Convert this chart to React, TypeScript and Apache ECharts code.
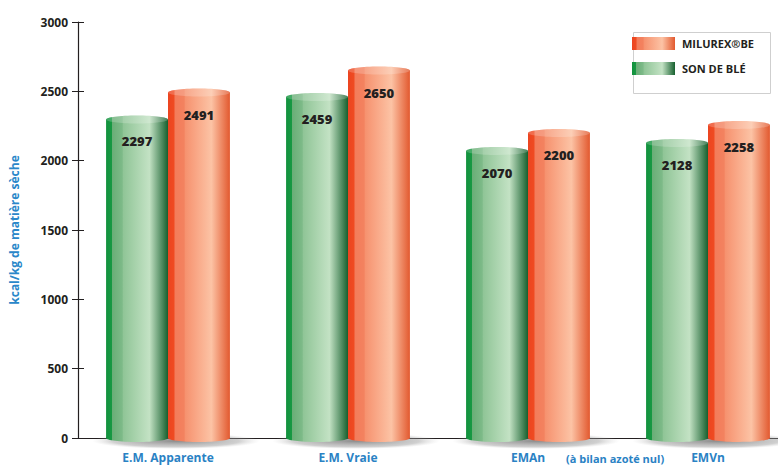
import React, { useEffect, useRef } from "react";
import * as echarts from "echarts";

const categories = ["E.M. Apparente", "E.M. Vraie", "EMAn", "EMVn"];
const sonDeBle = [2297, 2459, 2070, 2128];
const milurex = [2491, 2650, 2200, 2258];
const seriesNames = ["SON DE BLÉ", "MILUREX®BE"];
const yTicks = { min: 0, max: 3000, interval: 500 };
const axisNote = "(à bilan azoté nul)";
const yName = "kcal/kg de matière sèche";

const greenStops = [
  { offset: 0, color: "#11913c" },
  { offset: 0.09, color: "#189843" },
  { offset: 0.1, color: "#6aae77" },
  { offset: 0.26, color: "#7dba88" },
  { offset: 0.28, color: "#90c597" },
  { offset: 0.7, color: "#c3e2c4" },
  { offset: 1, color: "#17602f" },
];
const orangeStops = [
  { offset: 0, color: "#ec4420" },
  { offset: 0.1, color: "#ef4b22" },
  { offset: 0.11, color: "#f37c5b" },
  { offset: 0.26, color: "#f3825f" },
  { offset: 0.28, color: "#f6926f" },
  { offset: 0.7, color: "#fcc3a5" },
  { offset: 1, color: "#e2592f" },
];

const grad = (stops: any[]) => new echarts.graphic.LinearGradient(0, 0, 1, 0, stops);

export default function App() {
  const ref = useRef<HTMLDivElement>(null);
  useEffect(() => {
    document.body.style.margin = "0";
    document.body.style.overflow = "hidden";
    const chart = echarts.init(ref.current!, undefined, { renderer: "svg" });
    const BW = 0.344;
    const makeRender = (isLeft: boolean, stops: any[]) => (params: any, api: any) => {
      const idx = api.value(0);
      const val = api.value(1);
      const top = api.coord([idx, val]);
      const base = api.coord([idx, 0]);
      const band = api.size([1, 0])[0];
      const w = band * BW;
      const x = isLeft ? top[0] - w : top[0];
      const ry = 4;
      const children: any[] = [];
      if (isLeft) {
        children.push({
          type: "ellipse",
          shape: { cx: top[0] + 8, cy: base[1] + 3, rx: w + 22, ry: 8 },
          style: {
            fill: new echarts.graphic.RadialGradient(0.5, 0.5, 0.5, [
              { offset: 0, color: "rgba(90,90,90,0.7)" },
              { offset: 0.75, color: "rgba(150,150,150,0.45)" },
              { offset: 1, color: "rgba(200,200,200,0)" },
            ]),
          },
        });
      }
      children.push({
        type: "ellipse",
        shape: { cx: x + w / 2, cy: base[1], rx: w / 2, ry: ry },
        style: { fill: grad(stops) },
      });
      children.push({
        type: "rect",
        shape: { x: x, y: top[1], width: w, height: base[1] - top[1] },
        style: { fill: grad(stops) },
      });
      children.push({
        type: "ellipse",
        shape: { cx: x + w / 2, cy: top[1], rx: w / 2, ry: ry },
        style: { fill: grad(stops) },
      });
      children.push({
        type: "ellipse",
        shape: { cx: x + w / 2, cy: top[1], rx: w / 2, ry: ry },
        style: { fill: "rgba(255,255,255,0.2)" },
      });
      children.push({
        type: "text",
        style: {
          text: String(val),
          x: x + w / 2,
          y: top[1] + 22,
          align: "center",
          verticalAlign: "middle",
          fontFamily: "Open Sans",
          fontWeight: 800,
          fontSize: 13,
          fill: "#231f20",
        },
      });
      return { type: "group", children };
    };

    const labelFont = { fontFamily: "Open Sans", fontWeight: "bold" as const };

    chart.setOption({
      animation: false,
      grid: { left: 78, top: 22, bottom: 30, right: 2 },
      legend: {
        orient: "vertical",
        left: 632,
        top: 37,
        itemWidth: 43,
        itemHeight: 13,
        itemGap: 12,
        padding: 0,
        textStyle: { ...labelFont, fontSize: 11, color: "#231f20", padding: [0, 0, 0, 2] },
        data: [
          { name: seriesNames[1], icon: "rect", itemStyle: { color: grad(orangeStops) } },
          { name: seriesNames[0], icon: "rect", itemStyle: { color: grad(greenStops) } },
        ],
      },
      graphic: [
        {
          type: "rect",
          left: 631,
          top: 30,
          shape: { width: 137, height: 61 },
          style: { fill: "none", stroke: "#cfcfcf", lineWidth: 1 },
          z: -1,
        },
        {
          type: "text",
          left: 566,
          top: 453,
          style: {
            text: axisNote,
            ...labelFont,
            fontSize: 11,
            fill: "#2a82c4",
          },
        },
      ],
      xAxis: {
        type: "category",
        data: categories,
        axisLine: { lineStyle: { color: "#231f20", width: 1.2 } },
        axisTick: { show: false },
        axisLabel: { ...labelFont, fontSize: 12, color: "#2a82c4", margin: 13 },
      },
      yAxis: [
        {
          type: "value",
          ...yTicks,
          name: yName,
          nameLocation: "middle",
          nameGap: 58,
          nameTextStyle: { ...labelFont, fontSize: 12, color: "#2a87c9" },
          axisLine: { show: true, lineStyle: { color: "#231f20", width: 1.2 } },
          axisTick: { show: true, length: 6, lineStyle: { color: "#231f20" } },
          axisLabel: {
            ...labelFont,
            fontSize: 12,
            color: "#231f20",
            margin: 10,
            formatter: (v: number) => String(v),
          },
          splitLine: { show: false },
        },
        {
          type: "value",
          ...yTicks,
          position: "left",
          axisLine: { show: false },
          axisTick: { show: true, inside: true, length: 6, lineStyle: { color: "#231f20" } },
          axisLabel: { show: false },
          splitLine: { show: false },
        },
      ],
      series: [
        {
          name: seriesNames[0],
          type: "custom",
          renderItem: makeRender(true, greenStops),
          encode: { x: 0, y: 1 },
          data: sonDeBle.map((v, i) => [i, v]),
          itemStyle: { color: "#5fae6c" },
        },
        {
          name: seriesNames[1],
          type: "custom",
          renderItem: makeRender(false, orangeStops),
          encode: { x: 0, y: 1 },
          data: milurex.map((v, i) => [i, v]),
          itemStyle: { color: "#f27a55" },
        },
      ],
    });
    return () => chart.dispose();
  }, []);
  return <div ref={ref} style={{ width: 800, height: 468 }} />;
}
